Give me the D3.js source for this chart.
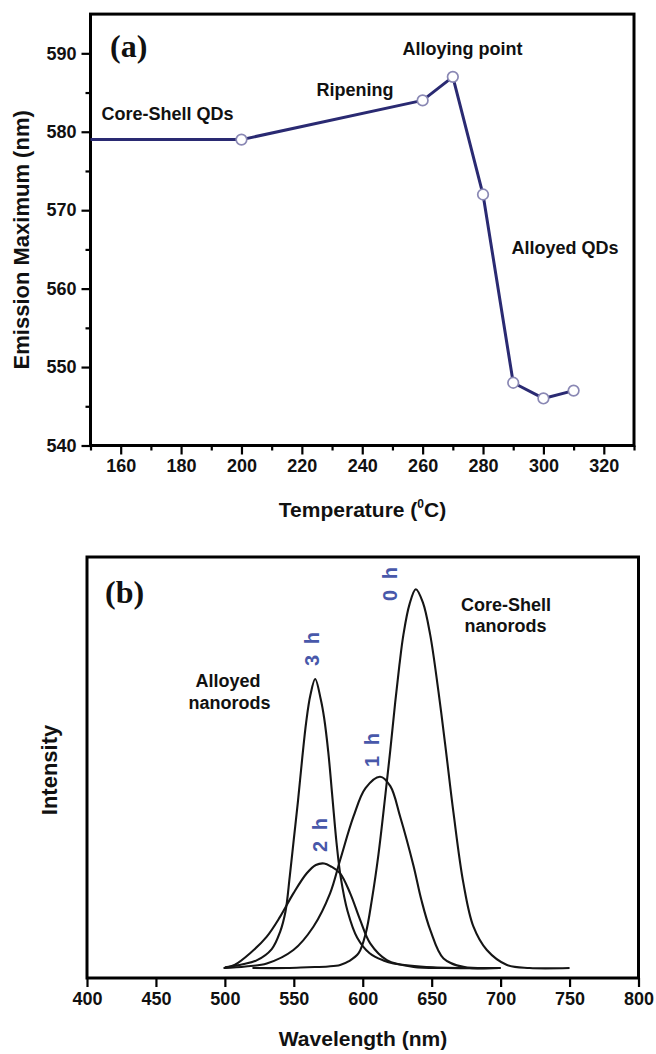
<!DOCTYPE html>
<html>
<head>
<meta charset="utf-8">
<script src="https://cdn.jsdelivr.net/npm/d3@7"></script>
<style>
  html, body { margin: 0; padding: 0; background: #ffffff; }
  svg { display: block; }
  .tick text { font-family: "Liberation Sans", Arial, sans-serif; font-weight: bold; font-size: 18px; fill: #111; }
  .tick line { stroke: #000; stroke-width: 2.2px; }
  .domain { display: none; }
</style>
</head>
<body>
<svg id="chart" width="656" height="1054"></svg>
<script>
// ---------- Panel (a): emission maximum vs temperature ----------
const temps = [150, 200, 260, 270, 280, 290, 300, 310];
const emission = [579, 579, 584, 587, 572, 548, 546, 547];
const tempTicks = [160, 180, 200, 220, 240, 260, 280, 300, 320];
const tempMinorTicks = [150, 170, 190, 210, 230, 250, 270, 290, 310, 330];
const emisTicks = [540, 550, 560, 570, 580, 590];
const emisMinorTicks = [545, 555, 565, 575, 585];
const annotationsA = ["Core-Shell QDs", "Ripening", "Alloying point", "Alloyed QDs"];

// ---------- Panel (b): PL spectra ----------
const wl0h  = [520, 545, 560, 575, 583.6, 590, 597, 602.2, 606.6, 611.4, 616.5, 620, 623.5, 626.6, 629.5, 633.9, 638.5, 643.6, 648.9, 654.9, 659.8, 665.8, 673, 680.3, 690, 704.6, 721, 750];
const int0h = [0, 0, 0.2, 0.4, 0.8, 1.8, 3.9, 9.2, 18, 30, 46, 57.6, 70, 80, 88, 96, 100, 96.5, 88, 73, 59, 41, 22.4, 10.9, 4.75, 0.8, 0, 0];

const wl1h  = [499, 515, 530.4, 549.7, 564.2, 576.3, 583.6, 593.3, 602, 612.6, 620, 627.1, 636.8, 642.5, 649, 658.6, 673, 699];
const int1h = [0, 0.4, 1.2, 4.75, 10.9, 19.7, 28.5, 40, 47.5, 50.5, 48, 40, 27, 18, 10, 2.5, 0.3, 0];

const wl2h  = [500, 507, 518.3, 530.4, 540, 549.7, 559.4, 566, 572, 577, 583.6, 590.9, 598.1, 605.4, 617.5, 636.8, 660, 700];
const int2h = [0, 0.8, 3.9, 8.3, 13.5, 19.7, 25, 27.2, 27.6, 26.8, 25, 19.7, 12.7, 6.5, 2.1, 0.3, 0, 0];

const wl3h  = [500, 513, 523, 534, 540, 544, 547, 550, 553, 556, 559, 562, 565.5, 569.5, 572, 575, 578, 581, 584, 589, 596, 605, 615, 622.3, 651, 700];
const int3h = [0.2, 1, 2, 5, 9.5, 15, 24, 34, 44, 55, 65, 72, 76.3, 71, 66, 57, 45, 33, 24, 15, 8, 3.9, 2, 1.2, 0.2, 0];

const spectraLabels = ["0 h", "1 h", "2 h", "3 h"];
const wlTicks = [400, 450, 500, 550, 600, 650, 700, 750, 800];

const svg = d3.select("#chart");
const FONT = '"Liberation Sans", Arial, sans-serif';

// ===== Panel (a) =====
const A = { left: 90.5, right: 634, top: 14.1, bottom: 445.5 };
const xA = d3.scaleLinear().domain([150, 330]).range([A.left, A.right]);
const yA = d3.scaleLinear().domain([540, 595]).range([A.bottom, A.top]);

const gA = svg.append("g");
gA.append("g").attr("transform", `translate(0,${A.bottom})`)
  .call(d3.axisBottom(xA).tickValues(tempMinorTicks).tickSize(5).tickFormat(""));
gA.append("g").attr("transform", `translate(0,${A.bottom})`)
  .call(d3.axisBottom(xA).tickValues(tempTicks).tickSize(9).tickPadding(5).tickFormat(d3.format("d")));
gA.append("g").attr("transform", `translate(${A.left},0)`)
  .call(d3.axisLeft(yA).tickValues(emisMinorTicks).tickSize(5).tickFormat(""));
gA.append("g").attr("transform", `translate(${A.left},0)`)
  .call(d3.axisLeft(yA).tickValues(emisTicks).tickSize(9).tickPadding(5).tickFormat(d3.format("d")));

gA.append("rect").attr("x", A.left).attr("y", A.top)
  .attr("width", A.right - A.left).attr("height", A.bottom - A.top)
  .attr("fill", "none").attr("stroke", "#000").attr("stroke-width", 3);

const ptsA = temps.map((t, i) => [t, emission[i]]);
gA.append("path").datum(ptsA)
  .attr("d", d3.line().x(d => xA(d[0])).y(d => yA(d[1])))
  .attr("fill", "none").attr("stroke", "#2a2a72").attr("stroke-width", 3).attr("stroke-linejoin", "round");
gA.selectAll("circle.mk").data(ptsA.slice(1)).join("circle")
  .attr("class", "mk")
  .attr("cx", d => xA(d[0])).attr("cy", d => yA(d[1])).attr("r", 5.3)
  .attr("fill", "#fff").attr("stroke", "#8a88b4").attr("stroke-width", 1.7);

gA.append("text").attr("x", 110).attr("y", 57)
  .attr("font-family", '"Liberation Serif", "Times New Roman", serif')
  .attr("font-weight", "bold").attr("font-size", 32).attr("fill", "#111").text("(a)");

const annPosA = [[101.5, 120], [316.5, 96], [402.5, 55], [511.5, 254]];
annotationsA.forEach((t, i) => {
  gA.append("text").attr("x", annPosA[i][0]).attr("y", annPosA[i][1])
    .attr("font-family", FONT).attr("font-weight", "bold").attr("font-size", 18)
    .attr("fill", "#111").text(t);
});

const tT = gA.append("text").attr("x", 362.5).attr("y", 517).attr("text-anchor", "middle")
  .attr("font-family", FONT).attr("font-weight", "bold").attr("font-size", 21).attr("fill", "#111");
tT.append("tspan").text("Temperature (");
tT.append("tspan").attr("font-size", 12).attr("dy", -9).text("0");
tT.append("tspan").attr("dy", 9).text("C)");

gA.append("text").attr("transform", `translate(29,${(A.top + A.bottom) / 2 + 10}) rotate(-90)`)
  .attr("text-anchor", "middle").attr("font-family", FONT).attr("font-weight", "bold")
  .attr("font-size", 22).attr("fill", "#111").text("Emission Maximum (nm)");

// ===== Panel (b) =====
const B = { left: 87, right: 638.5, top: 557, bottom: 978 };
const xB = d3.scaleLinear().domain([400, 800]).range([B.left, B.right]);
const yB = d3.scaleLinear().domain([-2.64, 108.5]).range([B.bottom, B.top]);

const gB = svg.append("g");
gB.append("g").attr("transform", `translate(0,${B.bottom})`)
  .call(d3.axisBottom(xB).tickValues(wlTicks).tickSize(9).tickPadding(5).tickFormat(d3.format("d")));
gB.append("rect").attr("x", B.left).attr("y", B.top)
  .attr("width", B.right - B.left).attr("height", B.bottom - B.top)
  .attr("fill", "none").attr("stroke", "#000").attr("stroke-width", 3);

const lineB = d3.line().x(d => xB(d[0])).y(d => yB(d[1])).curve(d3.curveCatmullRom.alpha(0.5));
const series = [[wl0h, int0h], [wl1h, int1h], [wl2h, int2h], [wl3h, int3h]];
series.forEach(([w, v]) => {
  gB.append("path").datum(w.map((x, i) => [x, v[i]]))
    .attr("d", lineB).attr("fill", "none").attr("stroke", "#151515").attr("stroke-width", 2.1);
});

// spectra labels (rotated), positioned near peaks
const labPos = [[396.5, 584], [378.5, 750], [327, 835], [318.5, 649]];
spectraLabels.forEach((t, i) => {
  gB.append("text").attr("transform", `translate(${labPos[i][0]},${labPos[i][1]}) rotate(-90)`)
    .attr("text-anchor", "middle").attr("font-family", FONT).attr("font-weight", "bold")
    .attr("font-size", 20).attr("word-spacing", 5).attr("fill", "#4858aa").text(t);
});

gB.append("text").attr("x", 105).attr("y", 603)
  .attr("font-family", '"Liberation Serif", "Times New Roman", serif')
  .attr("font-weight", "bold").attr("font-size", 32).attr("fill", "#111").text("(b)");

[["Alloyed", 228, 686.5], ["nanorods", 229.5, 708.5], ["Core-Shell", 506, 610.5], ["nanorods", 505.5, 631.5]]
  .forEach(([t, x, y]) => {
    gB.append("text").attr("x", x).attr("y", y).attr("text-anchor", "middle")
      .attr("font-family", FONT).attr("font-weight", "bold").attr("font-size", 18)
      .attr("fill", "#111").text(t);
  });

gB.append("text").attr("x", 363).attr("y", 1046).attr("text-anchor", "middle")
  .attr("font-family", FONT).attr("font-weight", "bold").attr("font-size", 21)
  .attr("fill", "#111").text("Wavelength (nm)");
gB.append("text").attr("transform", `translate(57,770) rotate(-90)`)
  .attr("text-anchor", "middle").attr("font-family", FONT).attr("font-weight", "bold")
  .attr("font-size", 22).attr("fill", "#111").text("Intensity");
</script>
</body>
</html>
